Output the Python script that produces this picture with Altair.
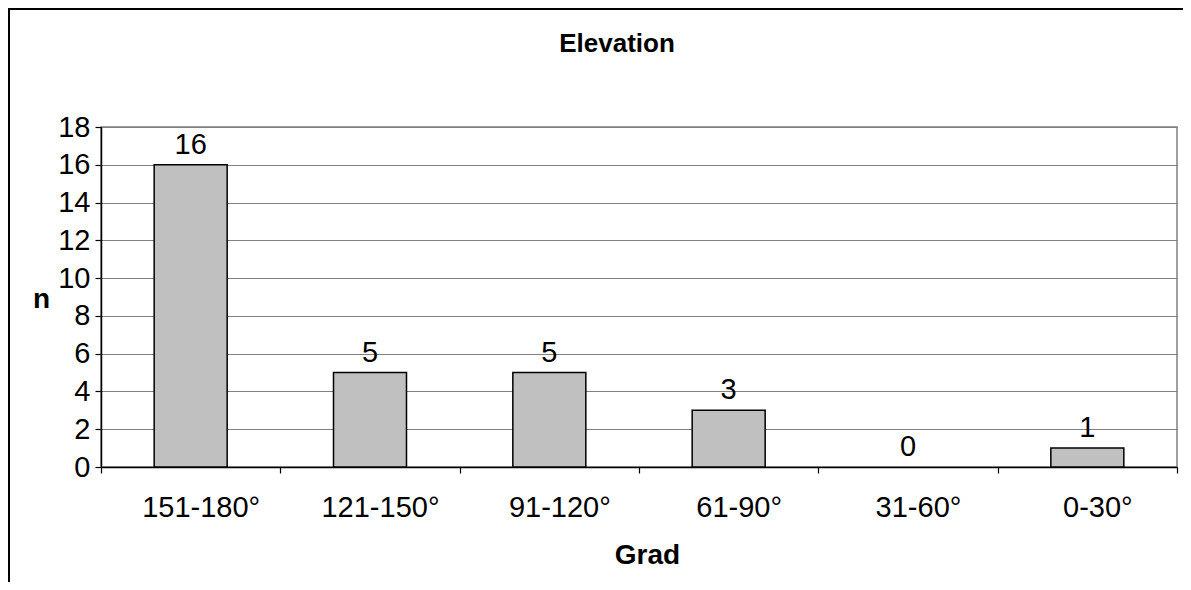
import altair as alt
import pandas as pd

categories = ["151-180°", "121-150°", "91-120°", "61-90°", "31-60°", "0-30°"]
counts = [16, 5, 5, 3, 0, 1]
y_ticks = [0, 2, 4, 6, 8, 10, 12, 14, 16, 18]

df = pd.DataFrame({"Grad": categories, "n": counts})
FONT = "Liberation Sans, Arial, sans-serif"

W, H = 1076, 340
PL, PT, PR, PB = 93, 119, 6, 115

x_enc = alt.X(
    "Grad:N",
    sort=categories,
    scale=alt.Scale(paddingInner=0, paddingOuter=0),
    axis=alt.Axis(
        title="Grad",
        titleFont=FONT, titleFontSize=28, titleFontWeight="bold", titleColor="black",
        titleX=546, titleY=88, titleBaseline="middle", titleAlign="center",
        labelFont=FONT, labelFontSize=29, labelColor="black", labelAngle=0,
        labelBaseline="middle", labelPadding=34, labelOffset=10,
        tickBand="extent", tickSize=6, tickColor="black", tickWidth=1.2,
        domainColor="black", domainWidth=1.5, grid=False,
    ),
)
y_enc = alt.Y(
    "n:Q",
    scale=alt.Scale(domain=[0, 18], nice=False),
    axis=alt.Axis(
        values=y_ticks,
        labelOverlap=False,
        title="n",
        titleFont=FONT, titleFontSize=28, titleFontWeight="bold", titleColor="black",
        titleAngle=0, titleX=-60, titleY=172, titleAlign="center", titleBaseline="middle",
        labelFont=FONT, labelFontSize=29, labelColor="black", labelPadding=5,
        labelBaseline="middle",
        tickSize=6, tickColor="black", tickWidth=1.2,
        domainColor="black", domainWidth=1.5,
        grid=True, gridColor="#808080", gridWidth=1.2,
    ),
)

base = alt.Chart(df).encode(x=x_enc, y=y_enc)

bars = base.mark_bar(size=73, color="#C0C0C0", stroke="black", strokeWidth=1.5).encode(
    strokeOpacity=alt.condition("datum.n > 0", alt.value(1), alt.value(0))
)
labels = base.mark_text(
    font=FONT, fontSize=29, color="black", baseline="alphabetic", dy=-11
).encode(text="n:Q")

frame = alt.Chart(df).mark_rect(fill=None, stroke="black", strokeWidth=1.5).encode(
    x=alt.value(-PL + 1), x2=alt.value(W + PR + 20),
    y=alt.value(-PT + 1), y2=alt.value(H + PB + 20),
)

chart = alt.layer(frame, bars, labels).properties(
    width=W, height=H,
    title=alt.TitleParams(
        "Elevation", font=FONT, fontSize=26, fontWeight="bold", color="black",
        anchor="middle", frame="group", offset=-70, dx=-22, baseline="alphabetic",
    ),
    autosize=alt.AutoSizeParams(type="none"),
    padding={"left": PL, "top": PT, "right": PR, "bottom": PB},
).configure_view(stroke="#808080", strokeWidth=1.5)

chart.save("out.html", embed_options={"renderer": "svg", "actions": False})
